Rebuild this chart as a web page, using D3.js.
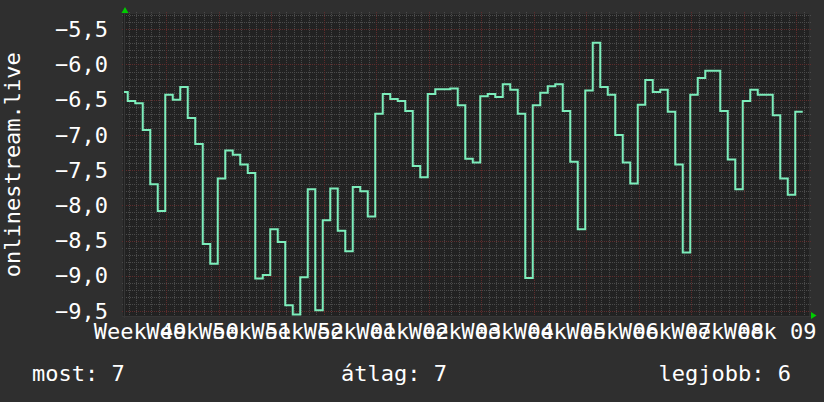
<!DOCTYPE html>
<html><head><meta charset="utf-8">
<script src="https://cdn.jsdelivr.net/npm/d3@7"></script>
<style>
html,body{margin:0;padding:0;background:#2f2f2f;}
svg{display:block;}
text{font-family:"DejaVu Sans Mono",monospace;fill:#ffffff;}
</style></head><body>
<script>
// ---- data ----
const yLabel = "onlinestream.live";
const weekLabels = ["Week 49","Week 50","Week 51","Week 52","Week 01","Week 02","Week 03","Week 04","Week 05","Week 06","Week 07","Week 08","Week 09"];
const yTicks = [-9.5,-9.0,-8.5,-8.0,-7.5,-7.0,-6.5,-6.0,-5.5];
const dayIndex = d3.range(91);
const values = [
 -6.39,-6.52,-6.55,-6.93,-7.70,-8.08,-6.43,-6.50,-6.32,-6.76,
 -7.13,-8.55,-8.83,-7.62,-7.22,-7.28,-7.42,-7.54,-9.04,-8.99,
 -8.34,-8.52,-9.42,-9.55,-9.02,-7.77,-9.49,-8.21,-7.76,-8.36,
 -8.65,-7.74,-7.80,-8.16,-6.70,-6.42,-6.49,-6.52,-6.66,-7.44,
 -7.60,-6.42,-6.35,-6.35,-6.34,-6.58,-7.34,-7.39,-6.45,-6.42,
 -6.46,-6.28,-6.36,-6.70,-9.03,-6.58,-6.40,-6.31,-6.28,-6.66,
 -7.38,-8.34,-6.37,-5.69,-6.32,-6.43,-7.00,-7.39,-7.69,-6.57,
 -6.22,-6.39,-6.36,-6.67,-7.42,-8.67,-6.43,-6.19,-6.09,-6.09,
 -6.66,-7.35,-7.77,-6.52,-6.36,-6.43,-6.43,-6.72,-7.62,-7.85,
 -6.67];
const legendItems = [["most: 7","start"],["átlag: 7","start"],["legjobb: 6","end"]];

// ---- layout ----
const W=824,H=402;
const L=124,R=809,T=14,B=315.5;
const dayStart=0.5, weekOffset=5.65, daysSpan=(R-L)/7.5;
const x=d3.scaleLinear().domain([0,daysSpan]).range([L,R]);
const y=d3.scaleLinear().domain([-9.564,-5.283]).range([B,T]);

const svg=d3.select("body").append("svg").attr("width",W).attr("height",H);
svg.append("rect").attr("width",W).attr("height",H).attr("fill","#2f2f2f");
svg.append("rect").attr("x",L-1).attr("y",T).attr("width",R-L+1).attr("height",B-T+1).attr("fill","#222222");

// grid
const minorX=d3.range(weekOffset%1, daysSpan, 1).filter(d=>Math.abs(((d-weekOffset)%7+7)%7)>0.01);
const majorX=d3.range(weekOffset%7, daysSpan, 7);
const allY=d3.range(-95,-52).map(v=>v/10).filter(v=>y(v)>=T-0.5&&y(v)<=B+0.5);
const minorY=allY.filter(v=>Math.abs(v*2-Math.round(v*2))>0.01);
const g=svg.append("g").attr("shape-rendering","crispEdges");
const minorCol="#4a4a4a", majorCol="#5e2c2c";
g.selectAll(".mx").data(minorX).join("line")
 .attr("x1",d=>Math.round(x(d))+0.5).attr("x2",d=>Math.round(x(d))+0.5)
 .attr("y1",T-2).attr("y2",B+2).attr("stroke",minorCol).attr("stroke-dasharray","1,1");
g.selectAll(".my").data(minorY).join("line")
 .attr("y1",d=>Math.round(y(d))+0.5).attr("y2",d=>Math.round(y(d))+0.5)
 .attr("x1",L-2).attr("x2",R+2).attr("stroke",minorCol).attr("stroke-dasharray","1,1");
g.selectAll(".Mx").data(majorX).join("line")
 .attr("x1",d=>Math.round(x(d))+0.5).attr("x2",d=>Math.round(x(d))+0.5)
 .attr("y1",T-2).attr("y2",B+2).attr("stroke",majorCol).attr("stroke-dasharray","1,1");
g.selectAll(".My").data(yTicks).join("line")
 .attr("y1",d=>Math.round(y(d))+0.5).attr("y2",d=>Math.round(y(d))+0.5)
 .attr("x1",L-2).attr("x2",R+2).attr("stroke",majorCol).attr("stroke-dasharray","1,1");

// axes lines
g.append("line").attr("x1",L+0.5).attr("x2",L+0.5).attr("y1",T-3).attr("y2",B+2).attr("stroke","#363636");
g.append("line").attr("x1",L-2).attr("x2",R+3).attr("y1",B+0.5).attr("y2",B+0.5).attr("stroke","#363636");
// arrows
svg.append("path").attr("d",`M${L-2.5},${T-1}L${L+1},${T-7}L${L+4.5},${T-1}Z`).attr("fill","#00cc00");
svg.append("path").attr("d",`M${R+2},${B-3.5}L${R+7.5},${B}L${R+2},${B+3.5}Z`).attr("fill","#00cc00");

// y tick labels
svg.selectAll(".yl").data(yTicks).join("text")
 .attr("x",108).attr("y",d=>y(d)+7.7).attr("text-anchor","end")
 .attr("font-size",22).text(d=>d3.format(".1f")(d).replace(".",","));

// x labels
svg.selectAll(".xl").data(weekLabels).join("text")
 .attr("x",(d,i)=>x(weekOffset-3.5+7*i)).attr("y",338.5).attr("text-anchor","middle")
 .attr("font-size",22).text(d=>d);

// y title
svg.append("text").attr("transform",`translate(20,${(T+B)/2}) rotate(-90)`)
 .attr("text-anchor","middle").attr("font-size",22).text(yLabel);

// data line
const pts=dayIndex.map(i=>[i===0?0:dayStart+i-1, values[i]]);
pts.push([dayStart+values.length-1, values[values.length-1]]);
const line=d3.line().x(d=>x(d[0])).y(d=>y(d[1])).curve(d3.curveStepAfter);
svg.append("path").attr("d",line(pts)).attr("fill","none")
 .attr("stroke","#7cedbb").attr("stroke-width",2).attr("stroke-linejoin","miter");

// legend
const legX=[32,341,791];
svg.selectAll(".lg").data(legendItems).join("text")
 .attr("x",(d,i)=>legX[i]).attr("y",381).attr("text-anchor",d=>d[1])
 .attr("font-size",22).text(d=>d[0]);
</script>
</body></html>
